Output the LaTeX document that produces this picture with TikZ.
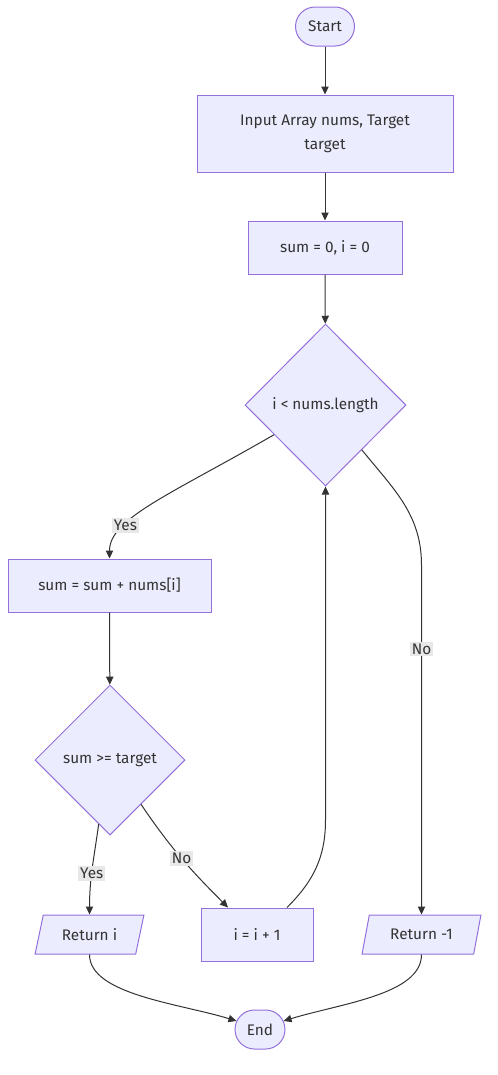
\documentclass[tikz,border=0pt]{standalone}
\usepackage{fontspec}
\setmainfont{Fira Sans}
\usepackage{tikz}
\usetikzlibrary{arrows,arrows.meta,shapes,positioning}
\definecolor{nodefill}{HTML}{ECECFF}
\definecolor{nodeline}{HTML}{9370DB}
\definecolor{edgeline}{HTML}{333333}
\definecolor{labelfill}{HTML}{E8E8E8}

\begin{document}
\begin{tikzpicture}[->,>={Triangle[length=6pt,width=5.5pt]},x=0.75pt,y=0.75pt,line width=0.75pt,
  main node/.style={draw=nodeline,fill=nodefill,text=edgeline,inner sep=0pt,
    font=\fontsize{11.5}{18}\selectfont},
  term node/.style={main node,rounded rectangle,minimum height=29.25pt},
  proc node/.style={main node,rectangle,align=center,minimum height=39.75pt},
  cond node/.style={main node,diamond,aspect=1},
  io node/.style={main node,trapezium,trapezium left angle=68,
    trapezium right angle=112,trapezium stretches=true,minimum height=29.25pt},
  edge label/.style={fill=labelfill,text=edgeline,inner sep=1.5pt,
    font=\fontsize{11.5}{14}\selectfont}]
  \useasboundingbox (0,0) rectangle (497,-1075);
					\node[term node,minimum width=44.25pt] (start) at (325,-26.5) {Start};
					\node[proc node,minimum width=192pt,minimum height=57.75pt] (input) at (325,-133.5) {Input Array nums, Target\\target};
					\node[proc node,minimum width=115.5pt] (init) at (325,-247.5) {sum = 0, i = 0};
					\node[cond node,minimum width=120.75pt,minimum height=121.5pt] (loop) at (325.5,-405) {i < nums.length};
					\node[proc node,minimum width=152.25pt] (acc) at (109.5,-585.5) {sum = sum + nums[i]};
					\node[cond node,minimum width=112.5pt,minimum height=112.5pt] (check) at (110,-760) {sum >= target};
					\node[io node,minimum width=81.75pt] (reti) at (89.5,-934.5) {Return i};
					\node[proc node,minimum width=84pt] (inc) at (257,-934.5) {i = i + 1};
					\node[io node,minimum width=89.25pt] (retn) at (421.5,-934.5) {Return -1};
					\node[term node,minimum width=37.5pt] (stop) at (260,-1029.5) {End};
					\coordinate (incbend) at (325.5,-820);
					\coordinate (nobend) at (421.5,-565);
				\path[color=edgeline,every node/.style={edge label}]
					(start) edge (input)
					(input) edge (init)
					(init) edge (loop)
					(loop.210) edge[out=210,in=90,out distance=90pt,in distance=30pt] node[pos=0.7] {Yes} (acc.north)
					(acc) edge (check)
					(check.260) edge[out=262,in=90] node[pos=0.55] {Yes} (reti.north)
					(check.305) edge[out=-56,in=135] node[pos=0.5] {No} (inc.137)
					(reti.south) edge[out=-90,in=163,out distance=30pt,in distance=45pt] (stop.160)
					(retn.south) edge[out=-90,in=17,out distance=30pt,in distance=45pt] (stop.20);
				\draw[edgeline] (inc.42) to[out=45,in=-90] (incbend) -- (loop.south);
				\draw[edgeline] (loop.-51) to[out=-51,in=90] (nobend) -- node[edge label,pos=0.24] {No} (retn.north);
\end{tikzpicture}
\end{document}
